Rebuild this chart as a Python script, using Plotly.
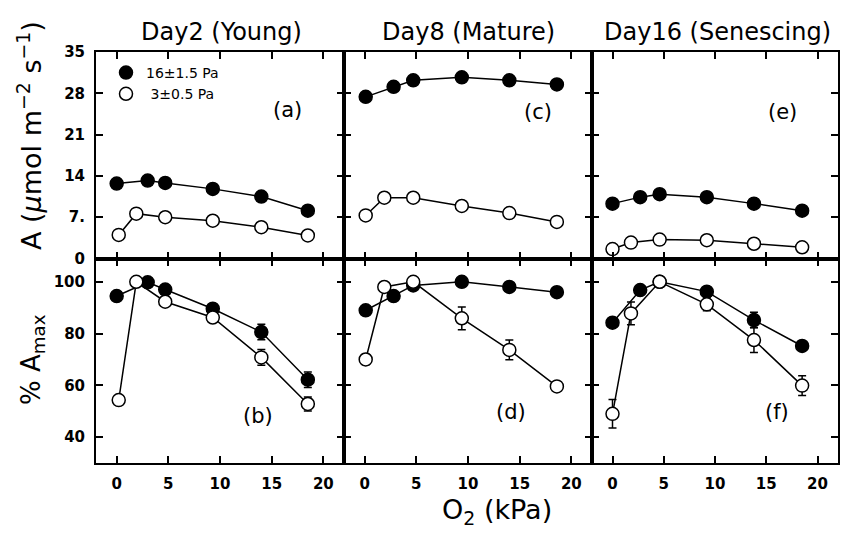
import plotly.graph_objects as go
from plotly.subplots import make_subplots

# ---------------- data ----------------
titles = ["Day2 (Young)", "Day8 (Mature)", "Day16 (Senescing)"]
top_labels = ["(a)", "(c)", "(e)"]
bot_labels = ["(b)", "(d)", "(f)"]
legend_names = ["16±1.5 Pa", " 3±0.5 Pa"]

# Day 2
x2_f = [0.0, 3.0, 4.7, 9.3, 14.0, 18.5]
x2_o = [0.2, 1.9, 4.7, 9.3, 14.0, 18.5]
A2_f = [12.7, 13.2, 12.8, 11.8, 10.5, 8.1]
A2_o = [4.0, 7.6, 7.0, 6.4, 5.3, 3.9]
P2_f = [94.5, 99.8, 97.0, 89.6, 80.6, 62.2]
P2_o = [54.3, 100.0, 92.3, 86.2, 70.8, 52.8]
E2_f = [0, 0, 0, 0, 3.0, 3.0]
E2_o = [0, 0, 0, 0, 3.0, 2.7]

# Day 8
x8_f = [0.1, 2.8, 4.7, 9.4, 14.0, 18.6]
x8_o = [0.1, 1.9, 4.7, 9.4, 14.0, 18.6]
A8_f = [27.4, 29.1, 30.2, 30.7, 30.2, 29.5]
A8_o = [7.3, 10.3, 10.3, 8.9, 7.7, 6.2]
P8_f = [89.0, 94.5, 98.6, 100.0, 98.0, 96.0]
P8_o = [70.0, 98.0, 100.0, 85.9, 73.7, 59.6]
E8_f = [0, 0, 0, 0, 0, 0]
E8_o = [2.0, 0, 0, 4.4, 3.8, 0]

# Day 16
x16_f = [0.0, 2.7, 4.6, 9.2, 13.8, 18.5]
x16_o = [0.0, 1.8, 4.6, 9.2, 13.8, 18.5]
A16_f = [9.3, 10.4, 10.9, 10.4, 9.3, 8.1]
A16_o = [1.6, 2.7, 3.2, 3.1, 2.5, 1.9]
P16_f = [84.2, 96.8, 100.0, 96.2, 85.2, 75.2]
P16_o = [49.0, 87.8, 100.0, 91.3, 77.5, 59.9]
E16_f = [0, 0, 0, 0, 3.0, 0]
E16_o = [5.5, 4.4, 0, 2.5, 4.8, 3.8]

top_ticks = [0, 7, 14, 21, 28, 35]
top_ticktext = ["0", "7.", "14", "21", "28", "35"]
bot_ticks = [40, 60, 80, 100]
x_ticks = [0, 5, 10, 15, 20]

days = [
    (x2_f, x2_o, A2_f, A2_o, P2_f, P2_o, E2_f, E2_o),
    (x8_f, x8_o, A8_f, A8_o, P8_f, P8_o, E8_f, E8_o),
    (x16_f, x16_o, A16_f, A16_o, P16_f, P16_o, E16_f, E16_o),
]

# ---------------- figure ----------------
OFF = 8                      # page body margin
FW, FH = 855 - 2 * OFF, 537 - 2 * OFF


def xp(px):
    return (px - OFF) / FW


def yp(py):
    return 1 - (py - OFF) / FH


fig = make_subplots(rows=2, cols=3, horizontal_spacing=0, vertical_spacing=0)

FONT = "DejaVu Sans"
filled = dict(symbol="circle", size=13, color="black", line=dict(color="black", width=1.5))
opened = dict(symbol="circle", size=13, color="white", line=dict(color="black", width=1.5))
line_st = dict(color="black", width=1.5)

for c, (xf, xo, Af, Ao, Pf, Po, Ef, Eo) in enumerate(days, start=1):
    fig.add_trace(go.Scatter(x=xf, y=Af, mode="lines+markers", marker=filled, line=line_st,
                             showlegend=False), row=1, col=c)
    fig.add_trace(go.Scatter(x=xo, y=Ao, mode="lines+markers", marker=opened, line=line_st,
                             showlegend=False), row=1, col=c)
    fig.add_trace(go.Scatter(x=xf, y=Pf, mode="lines+markers", marker=filled, line=line_st,
                             error_y=dict(type="data", array=Ef, color="black", thickness=1.5, width=4),
                             showlegend=False), row=2, col=c)
    fig.add_trace(go.Scatter(x=xo, y=Po, mode="lines+markers", marker=opened, line=line_st,
                             error_y=dict(type="data", array=Eo, color="black", thickness=1.5, width=4),
                             showlegend=False), row=2, col=c)

# legend-only traces
fig.add_trace(go.Scatter(x=[None], y=[None], mode="markers", marker=filled, name=legend_names[0]), row=1, col=1)
fig.add_trace(go.Scatter(x=[None], y=[None], mode="markers", marker=opened, name=legend_names[1]), row=1, col=1)

xdoms = [(xp(96), xp(344)), (xp(344), xp(592)), (xp(592), xp(838))]
ytop = (yp(258.5), yp(52))
ybot = (yp(463), yp(258.5))

tickfont = dict(family=FONT, size=15, color="black", weight="bold")
axis_common = dict(showline=True, mirror="ticks", linecolor="black", linewidth=2,
                   ticks="inside", ticklen=7, tickwidth=1.5, tickcolor="black",
                   showgrid=False, zeroline=False, automargin=False,
                   ticklabelstandoff=6, tickfont=tickfont)

for r in (1, 2):
    for c in (1, 2, 3):
        fig.update_xaxes(domain=list(xdoms[c - 1]), range=[-2, 22], tickvals=x_ticks,
                         showticklabels=(r == 2), row=r, col=c, **axis_common)
        if r == 1:
            fig.update_yaxes(domain=list(ytop), range=[0, 35], tickvals=top_ticks,
                             ticktext=top_ticktext, showticklabels=(c == 1), row=r, col=c,
                             **axis_common)
        else:
            fig.update_yaxes(domain=list(ybot), range=[30, 109], tickvals=bot_ticks,
                             showticklabels=(c == 1), row=r, col=c, **axis_common)

annotations = []


def ann(px, py, text, size, angle=0):
    annotations.append(dict(x=xp(px), y=yp(py), xref="paper", yref="paper", text=text,
                            xanchor="center", yanchor="middle", textangle=angle,
                            showarrow=False, font=dict(family=FONT, size=size, color="black")))


title_x = [221, 468, 717]
for px, t in zip(title_x, titles):
    ann(px, 32, t, 24)

for (px, py), t in zip([(287, 110), (538, 112), (782, 112)], top_labels):
    ann(px, py, t, 21)
for (px, py), t in zip([(258, 416), (511, 412), (777, 412)], bot_labels):
    ann(px, py, t, 21)

ann(30, 136, "A (<i>μ</i>mol m<sup>−2</sup> s<sup>−1</sup>)", 27, -90)
ann(32, 360, "% A<sub>max</sub>", 26, -90)
ann(497, 511, "O<sub>2</sub> (kPa)", 27)

fig.update_layout(
    template="none",
    width=FW, height=FH, margin=dict(l=0, r=0, t=0, b=0, pad=0),
    paper_bgcolor="white", plot_bgcolor="white",
    annotations=annotations,
    legend=dict(x=xp(106), y=yp(57), xanchor="left", yanchor="top",
                bgcolor="rgba(0,0,0,0)", font=dict(family=FONT, size=14, color="black"),
                tracegroupgap=0, itemwidth=30),
    showlegend=True,
)

fig.write_html("out.html")
